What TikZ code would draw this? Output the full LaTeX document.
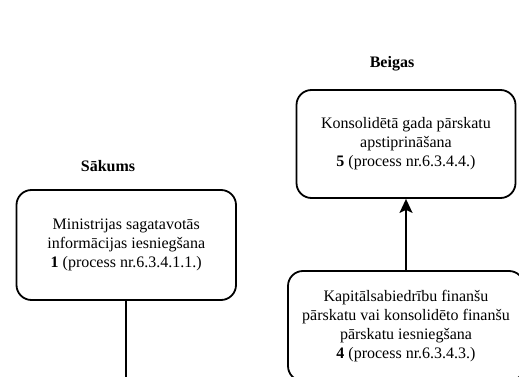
\documentclass[tikz,border=0pt]{standalone}
\usepackage{fontspec}
\setmainfont{Liberation Serif}
\usetikzlibrary{arrows.meta}
\begin{document}
\begin{tikzpicture}[x=1pt,y=-1pt,
  procbox/.style={draw, line width=1.8pt, rounded corners=15pt, align=center,
    font=\fontsize{16}{19}\selectfont, inner sep=0pt},
  lbl/.style={font=\fontsize{16}{19}\selectfont\bfseries},
  conn/.style={line width=1.8pt}]
\useasboundingbox (0,0) rectangle (519,377);
\clip (0,0) rectangle (519,377);
\node[lbl] (l1) at (108,166) {Sākums};
\node[lbl] (l5) at (392,64) {Beigas};
\node[procbox, minimum width=219.5pt, minimum height=110pt] (b1) at (126.25,245)
  {Ministrijas sagatavotās\\informācijas iesniegšana\\\textbf{1} (process nr.6.3.4.1.1.)};
\node[procbox, minimum width=219pt, minimum height=108pt] (b5) at (406,144)
  {Konsolidētā gada pārskatu\\apstiprināšana\\\textbf{5} (process nr.6.3.4.4.)};
\node[procbox, minimum width=236pt, minimum height=110pt] (b4) at (406,326)
  {Kapitālsabiedrību finanšu\\pārskatu vai konsolidēto finanšu\\pārskatu iesniegšana\\\textbf{4} (process nr.6.3.4.3.)};
\coordinate (e1) at (126,390);
\draw[conn] (b1.south -| e1) -- (e1);
\draw[conn, -{Stealth[length=14pt,width=13pt,inset=3pt]}] (b4.north -| b5.south) -- (b5.south);
\end{tikzpicture}
\end{document}
